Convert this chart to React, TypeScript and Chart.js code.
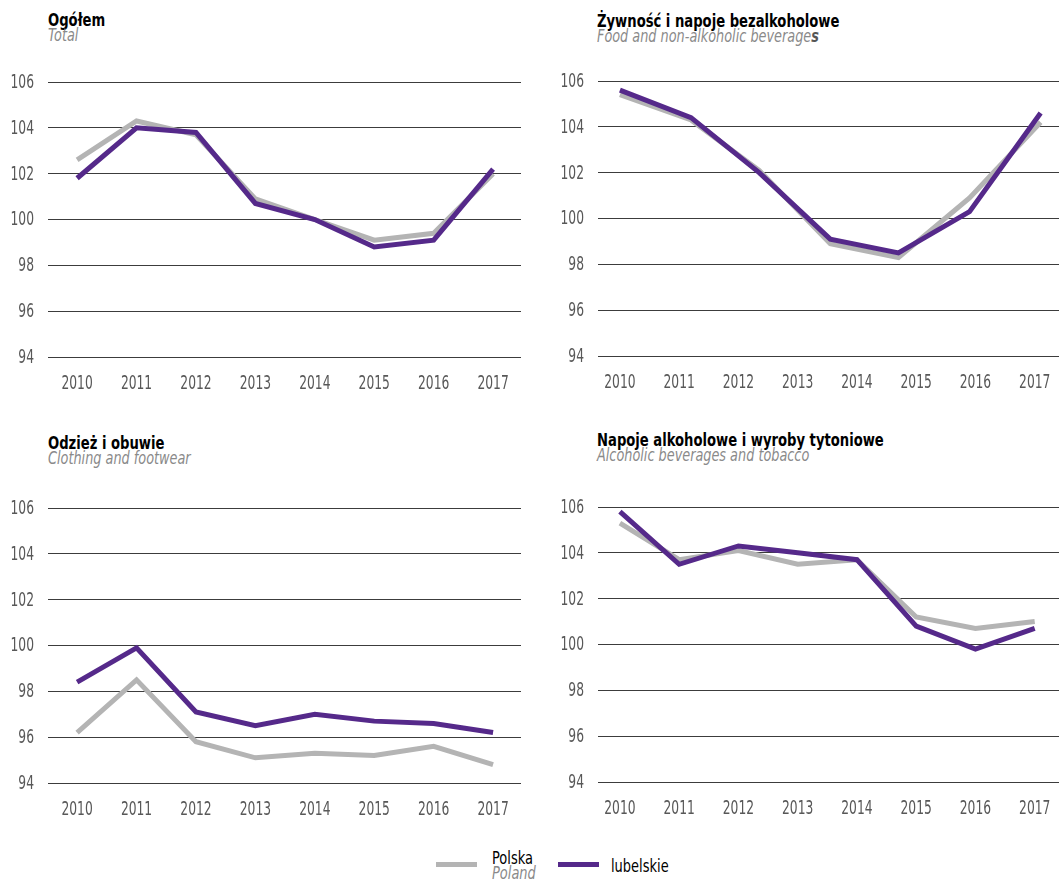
import React, { useEffect, useRef } from "react";
import { Chart, registerables } from "chart.js";

Chart.register(...registerables);

// ---------- data ----------
const years = [2010, 2011, 2012, 2013, 2014, 2015, 2016, 2017];
const yTickValues = [94, 96, 98, 100, 102, 104, 106];

const totalPolska = [102.6, 104.3, 103.7, 100.9, 100.0, 99.1, 99.4, 102.0];
const totalLubelskie = [101.8, 104.0, 103.8, 100.7, 100.0, 98.8, 99.1, 102.2];

// the food series in the source has 7 evenly spaced points across the axis
const foodX = [2010, 2011.2, 2012.35, 2013.55, 2014.7, 2015.9, 2017.1];
const foodPolska = [105.4, 104.3, 102.1, 98.9, 98.3, 100.9, 104.2];
const foodLubelskie = [105.6, 104.4, 102.0, 99.1, 98.5, 100.3, 104.6];

const clothingPolska = [96.2, 98.5, 95.8, 95.1, 95.3, 95.2, 95.6, 94.8];
const clothingLubelskie = [98.4, 99.9, 97.1, 96.5, 97.0, 96.7, 96.6, 96.2];

const alcoholPolska = [105.3, 103.7, 104.1, 103.5, 103.7, 101.2, 100.7, 101.0];
const alcoholLubelskie = [105.8, 103.5, 104.3, 104.0, 103.7, 100.8, 99.8, 100.7];

const seriesNames = ["Polska", "lubelskie"];
const seriesNamesEn = ["Poland", ""];

// ---------- style ----------
const PURPLE = "#55298a";
const GREY = "#b4b4b4";
const FONT = "'DejaVu Sans Condensed', 'Liberation Sans', sans-serif";
const TICK_COLOR = "#585858";
const TICK_SIZE = 19;
const TICK_SX = 0.72;

function drawCondensed(ctx: CanvasRenderingContext2D, text: string, x: number, y: number, align: CanvasTextAlign) {
  ctx.save();
  ctx.translate(x, y);
  ctx.scale(TICK_SX, 1);
  ctx.textAlign = align;
  ctx.textBaseline = "middle";
  ctx.fillText(text, 0, 0);
  ctx.restore();
}

// draws the scales' tick labels in a horizontally condensed face
const condensedTicks = {
  id: "condensedTicks",
  afterDraw(chart: any) {
    const ctx: CanvasRenderingContext2D = chart.ctx;
    const area = chart.chartArea;
    ctx.save();
    ctx.fillStyle = TICK_COLOR;
    ctx.font = `${TICK_SIZE}px ${FONT}`;
    const xs = chart.scales.x;
    xs.ticks.forEach((t: any) => {
      drawCondensed(ctx, String(t.value), xs.getPixelForValue(t.value), area.bottom + 27, "center");
    });
    const ys = chart.scales.y;
    ys.ticks.forEach((t: any) => {
      drawCondensed(ctx, String(t.value), area.left - 14, ys.getPixelForValue(t.value) + 1, "right");
    });
    ctx.restore();
  },
};

type PanelProps = {
  title: string;
  subtitle: React.ReactNode;
  xs: number[];
  polska: number[];
  lubelskie: number[];
  left: number;
  top: number;
  width: number;
  height: number;
  yW: number;
  padTop: number;
  padRight: number;
  xH: number;
  xMin: number;
  xMax: number;
  titleTop: number;
  titleLeft: number;
};

function Panel(p: PanelProps) {
  const ref = useRef<HTMLCanvasElement>(null);
  useEffect(() => {
    const chart = new Chart(ref.current as HTMLCanvasElement, {
      type: "line",
      data: {
        datasets: [
          {
            label: seriesNames[1],
            data: p.xs.map((x, i) => ({ x, y: p.lubelskie[i] })),
            borderColor: PURPLE,
            backgroundColor: PURPLE,
            borderWidth: 5,
            pointRadius: 0,
            tension: 0,
            borderJoinStyle: "miter",
            borderCapStyle: "butt",
          },
          {
            label: seriesNames[0],
            data: p.xs.map((x, i) => ({ x, y: p.polska[i] })),
            borderColor: GREY,
            backgroundColor: GREY,
            borderWidth: 5,
            pointRadius: 0,
            tension: 0,
            borderJoinStyle: "miter",
            borderCapStyle: "butt",
          },
        ],
      },
      plugins: [condensedTicks],
      options: {
        responsive: false,
        animation: false,
        layout: { padding: { top: p.padTop, right: p.padRight, left: 0, bottom: 0 } },
        plugins: { legend: { display: false }, tooltip: { enabled: false }, title: { display: false } },
        scales: {
          x: {
            type: "linear",
            min: p.xMin,
            max: p.xMax,
            afterBuildTicks: (s: any) => {
              s.ticks = years.map((v) => ({ value: v }));
            },
            afterFit: (s: any) => {
              s.height = p.xH;
            },
            ticks: { display: false },
            grid: { display: false },
            border: { display: false },
          },
          y: {
            type: "linear",
            min: 94,
            max: 106,
            afterBuildTicks: (s: any) => {
              s.ticks = yTickValues.map((v) => ({ value: v }));
            },
            afterFit: (s: any) => {
              s.width = p.yW;
            },
            ticks: { display: false },
            grid: { color: "#3c3c3c", lineWidth: 1, drawTicks: false },
            border: { display: false },
          },
        },
      } as any,
    });
    return () => chart.destroy();
  }, []);

  return (
    <>
      <div
        style={{
          position: "absolute",
          left: p.titleLeft,
          top: p.titleTop,
          fontFamily: FONT,
          fontSize: 17,
          lineHeight: "15px",
          whiteSpace: "nowrap",
        }}
      >
        <div style={{ fontWeight: "bold", color: "#000", transform: "scaleX(0.86)", transformOrigin: "left" }}>
          {p.title}
        </div>
        <div style={{ fontStyle: "italic", color: "#8a8a8a", transform: "scaleX(0.84)", transformOrigin: "left" }}>
          {p.subtitle}
        </div>
      </div>
      <canvas
        ref={ref}
        width={p.width}
        height={p.height}
        style={{ position: "absolute", left: p.left, top: p.top, width: p.width, height: p.height }}
      />
    </>
  );
}

export default function App() {
  const legendText = {
    fontFamily: FONT,
    fontSize: 17,
    lineHeight: "15px",
    color: "#000",
    whiteSpace: "nowrap",
    transform: "scaleX(0.85)",
    transformOrigin: "left",
  } as const;
  return (
    <div
      style={{
        position: "absolute",
        left: 0,
        top: 0,
        width: 1059,
        height: 881,
        background: "#fff",
        overflow: "hidden",
      }}
    >
      <Panel
        title="Ogółem"
        subtitle="Total"
        xs={years}
        polska={totalPolska}
        lubelskie={totalLubelskie}
        left={0}
        top={60}
        width={530}
        height={340}
        yW={48}
        padTop={22}
        padRight={9}
        xH={43}
        xMin={2009.51}
        xMax={2017.47}
        titleLeft={48}
        titleTop={13}
      />
      <Panel
        title="Żywność i napoje bezalkoholowe"
        subtitle={
          <>
            Food and non-alkoholic beverage<span style={{ fontWeight: "bold", color: "#555" }}>s</span>
          </>
        }
        xs={foodX}
        polska={foodPolska}
        lubelskie={foodLubelskie}
        left={530}
        top={60}
        width={529}
        height={340}
        yW={68}
        padTop={21}
        padRight={0}
        xH={44}
        xMin={2009.63}
        xMax={2017.41}
        titleLeft={597}
        titleTop={14}
      />
      <Panel
        title="Odzież i obuwie"
        subtitle="Clothing and footwear"
        xs={years}
        polska={clothingPolska}
        lubelskie={clothingLubelskie}
        left={0}
        top={480}
        width={530}
        height={350}
        yW={48}
        padTop={28}
        padRight={9}
        xH={47}
        xMin={2009.51}
        xMax={2017.47}
        titleLeft={48}
        titleTop={436}
      />
      <Panel
        title="Napoje alkoholowe i wyroby tytoniowe"
        subtitle="Alcoholic beverages and tobacco"
        xs={years}
        polska={alcoholPolska}
        lubelskie={alcoholLubelskie}
        left={530}
        top={480}
        width={529}
        height={350}
        yW={68}
        padTop={27}
        padRight={0}
        xH={48}
        xMin={2009.63}
        xMax={2017.41}
        titleLeft={597}
        titleTop={433}
      />
      {/* legend */}
      <div style={{ position: "absolute", left: 436, top: 862, width: 41, height: 5, background: GREY }} />
      <div style={{ position: "absolute", left: 492, top: 851, ...legendText }}>
        <div>{seriesNames[0]}</div>
        <div style={{ fontStyle: "italic", color: "#8a8a8a" }}>{seriesNamesEn[0]}</div>
      </div>
      <div style={{ position: "absolute", left: 558, top: 862, width: 41, height: 5, background: PURPLE }} />
      <div style={{ position: "absolute", left: 611, top: 859, ...legendText }}>{seriesNames[1]}</div>
    </div>
  );
}
